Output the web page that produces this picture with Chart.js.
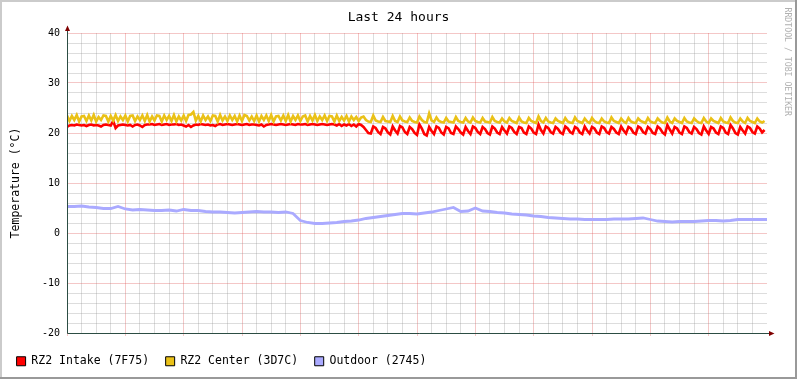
<!DOCTYPE html>
<html><head><meta charset="utf-8">
<script src="https://cdn.jsdelivr.net/npm/chart.js@4.4.1/dist/chart.umd.min.js"></script>
<style>html,body{margin:0;padding:0;background:#fff;}#wrap{width:797px;height:379px;}</style>
</head><body><div id="wrap"><canvas id="c" width="797" height="379"></canvas></div>
<script>
const chartTitle = 'Last 24 hours';
const yAxisTitle = 'Temperature (°C)';
const watermark = 'RRDTOOL / TOBI OETIKER';
const seriesNames = ['RZ2 Intake (7F75)', 'RZ2 Center (3D7C)', 'Outdoor (2745)'];
const xTickLabels = ['Fri 00:00', 'Fri 06:00', 'Fri 12:00', 'Fri 18:00'];
const yTickValues = [-20, -10, 0, 10, 20, 30, 40];
const sampleMinutes = 5;    // step of intake / center samples
const outdoorMinutes = 15;  // step of outdoor samples

const intake = [
21.2,21.5,21.6,21.5,21.7,21.6,21.5,21.6,21.4,21.6,
21.7,21.5,21.6,21.5,21.3,21.6,21.7,21.6,21.5,22.4,
21.0,21.5,21.6,21.7,21.6,21.5,21.6,21.3,21.6,21.7,
21.5,21.2,21.6,21.7,21.7,21.8,21.6,21.7,21.8,21.6,
21.7,21.8,21.6,21.7,21.7,21.8,21.6,21.7,21.5,21.3,
21.6,21.2,21.5,21.7,21.6,21.8,21.7,21.6,21.7,21.5,
21.6,21.4,21.7,21.8,21.6,21.7,21.8,21.7,21.6,21.7,
21.8,21.7,21.6,21.7,21.8,21.6,21.7,21.7,21.6,21.5,
21.7,21.3,21.6,21.7,21.8,21.7,21.6,21.7,21.8,21.7,
21.6,21.7,21.8,21.7,21.6,21.8,21.7,21.7,21.8,21.6,
21.7,21.8,21.7,21.6,21.7,21.8,21.7,21.6,21.7,21.8,
21.7,21.5,21.8,21.4,21.7,21.5,21.8,21.4,21.7,21.3,
21.8,21.6,
21.2,20.6,20.0,19.9, 21.3,21.0,20.2,19.8, 21.2,20.9,20.1,19.7, 21.3,20.5,19.9,
21.4,21.1,20.2,19.8, 21.2,20.8,20.0,19.6, 21.7,20.9,19.8,19.5, 21.2,20.4,19.8,
21.3,21.0,20.1,19.7, 21.2,20.9,20.0,19.8, 21.3,20.8,20.1,19.7, 21.2,20.4,19.8,
21.3,21.0,20.2,19.8, 21.2,20.8,20.0,19.7, 21.3,20.9,20.1,19.8, 21.2,20.5,19.9,
21.3,21.0,20.2,19.8, 21.2,21.0,20.1,19.8, 21.3,20.9,20.1,19.8, 21.7,20.6,19.9,
21.3,21.0,20.2,19.9, 21.2,20.8,20.1,19.8, 21.3,20.9,20.2,19.9, 21.2,20.9,20.1,19.8,
21.3,20.5,19.9, 21.2,20.9,20.1,19.8, 21.3,21.0,20.2,19.9, 21.2,20.8,20.1,19.8,
21.3,20.5,19.9, 21.2,20.9,20.1,19.8, 21.3,21.0,20.2,19.9, 21.2,20.8,20.0,19.8,
21.3,20.9,20.1,19.7, 21.6,20.7,19.9, 21.2,20.9,20.1,19.8, 21.3,21.0,20.2,19.9,
21.2,20.8,20.0,19.7, 21.3,20.5,19.8, 21.2,20.9,20.1,19.8, 21.3,21.0,20.1,19.8,
21.6,20.9,20.0,19.7, 21.2,20.5,19.9, 21.3,21.0,20.2,19.9, 21.3,20.9,20.1,20.6
];

const center = [
23.5,22.4,23.4,22.6,23.6,22.3,23.3,23.4,22.4,23.5,
22.5,23.6,22.3,23.2,22.6,23.5,23.4,22.3,23.4,22.5,
23.6,22.4,23.3,22.6,23.5,22.3,23.4,23.5,22.4,23.3,
22.6,23.5,22.4,23.6,22.3,23.3,22.5,23.5,23.4,22.3,
23.5,22.6,23.4,22.4,23.6,22.3,23.3,22.5,23.5,22.4,
23.6,23.7,24.2,22.5,23.4,22.3,23.5,22.6,23.3,22.4,
23.5,23.4,22.3,23.6,22.5,23.3,22.4,23.5,22.6,23.4,
22.3,23.5,22.4,23.6,23.4,22.5,23.3,22.4,23.5,22.3,
23.4,22.6,23.5,22.4,23.6,22.3,23.3,23.4,22.5,23.5,
22.4,23.6,22.3,23.4,22.6,23.5,22.4,23.3,23.5,22.3,
23.4,22.5,23.6,22.4,23.3,22.6,23.5,22.4,23.4,23.3,
22.3,23.5,22.4,23.2,22.5,23.4,22.3,23.3,22.6,23.2,
22.4,23.1,
23.3,22.6,22.3,22.2, 23.5,22.5,22.3,22.2, 23.2,22.4,22.3,22.2, 23.4,22.4,22.2,
23.3,22.5,22.3,22.2, 23.1,22.4,22.2,22.1, 23.3,22.6,22.2,22.1, 23.9,22.5,22.2,
23.1,22.4,22.2,22.1, 23.0,22.3,22.2,22.1, 23.2,22.4,22.2,22.1, 23.0,22.3,22.1,
23.1,22.4,22.2,22.1, 23.0,22.3,22.2,22.1, 23.2,22.4,22.2,22.1, 22.9,22.3,22.1,
23.0,22.4,22.2,22.0, 23.1,22.3,22.1,22.0, 23.0,22.4,22.2,22.0, 23.3,22.4,22.1,
23.0,22.3,22.1,22.0, 22.9,22.4,22.2,22.0, 23.0,22.3,22.1,22.0, 23.1,22.4,22.2,22.0,
22.9,22.3,22.0, 23.0,22.4,22.1,22.0, 22.9,22.3,22.1,22.0, 23.1,22.4,22.2,22.0,
22.9,22.3,22.0, 23.0,22.3,22.1,22.0, 22.9,22.4,22.2,22.0, 23.0,22.3,22.1,22.0,
22.9,22.4,22.1,22.0, 23.1,22.3,22.0, 22.9,22.4,22.2,22.0, 23.0,22.3,22.1,22.0,
22.9,22.4,22.1,22.0, 23.0,22.3,22.0, 22.9,22.4,22.2,22.0, 23.0,22.3,22.1,22.0,
23.1,22.4,22.1,22.0, 22.9,22.3,22.0, 23.0,22.4,22.2,22.0, 22.9,22.3,22.1,22.4
];

const outdoor = [
5.3,5.3,5.4,5.2,5.1,4.9,4.9,5.3,4.8,4.6,
4.7,4.6,4.5,4.5,4.6,4.4,4.7,4.5,4.5,4.3,
4.2,4.2,4.1,4.0,4.1,4.2,4.3,4.2,4.2,4.1,
4.2,3.9,2.5,2.1,1.9,1.9,2.0,2.1,2.3,2.4,
2.6,2.9,3.1,3.3,3.5,3.7,3.9,3.9,3.8,4.0,
4.2,4.5,4.8,5.1,4.3,4.4,5.0,4.4,4.3,4.1,
4.0,3.8,3.7,3.6,3.4,3.3,3.1,3.0,2.9,2.8,
2.8,2.7,2.7,2.7,2.7,2.8,2.8,2.8,2.9,3.0,
2.7,2.4,2.3,2.2,2.3,2.3,2.3,2.4,2.5,2.5,
2.4,2.5,2.7,2.7,2.7,2.7,2.7
];

const FONT = "'DejaVu Sans Mono', monospace";
const COLORS = ['#ff0000', '#eac117', '#aaaaff'];
const MAJOR_GRID = 'rgba(222,81,81,0.32)';
const MINOR_GRID = 'rgba(143,143,143,0.30)';
const toPts = (arr, step) => arr.map((v, i) => ({x: i * step, y: v}));

const framePlugin = {
  id: 'frame',
  beforeDraw(chart) {
    const c = chart.ctx, W = chart.width, H = chart.height;
    c.save();
    c.fillStyle = '#ffffff';
    c.fillRect(0, 0, W, H);
    c.fillStyle = '#cbcbcb';
    c.fillRect(0, 0, W, 2);
    c.fillRect(0, 0, 2, H);
    c.fillStyle = '#999999';
    c.fillRect(0, H - 2, W, 2);
    c.fillRect(W - 2, 0, 2, H);
    c.restore();
  },
  afterDatasetsDraw(chart) {
    const a = chart.chartArea, c = chart.ctx;
    const x0 = Math.round(a.left) + 0.5, y0 = Math.round(a.bottom) + 0.5;
    c.save();
    c.strokeStyle = '#2c4d43';
    c.lineWidth = 1;
    c.beginPath();
    c.moveTo(x0, y0); c.lineTo(x0, a.top - 4);
    c.moveTo(x0, y0); c.lineTo(a.right + 4, y0);
    c.stroke();
    c.fillStyle = '#7f0000';
    c.beginPath();
    c.moveTo(x0 - 2.5, a.top - 2); c.lineTo(x0 + 2.5, a.top - 2); c.lineTo(x0, a.top - 7.5); c.closePath();
    c.fill();
    c.beginPath();
    c.moveTo(a.right + 2, y0 - 2.5); c.lineTo(a.right + 2, y0 + 2.5); c.lineTo(a.right + 7.5, y0); c.closePath();
    c.fill();
    c.restore();
  },
  afterDraw(chart) {
    const c = chart.ctx;
    c.save();
    c.translate(786.7, 7.5);
    c.rotate(Math.PI / 2);
    c.font = '8.2px ' + FONT;
    c.fillStyle = '#b0b0b0';
    c.textAlign = 'left';
    c.textBaseline = 'middle';
    c.fillText(watermark, 0, 0);
    c.restore();
  }
};

new Chart(document.getElementById('c'), {
  type: 'line',
  data: {
    datasets: [
      {label: seriesNames[0], data: toPts(intake, sampleMinutes), borderColor: COLORS[0], backgroundColor: COLORS[0], borderWidth: 2.6, order: 3},
      {label: seriesNames[1], data: toPts(center, sampleMinutes), borderColor: COLORS[1], backgroundColor: COLORS[1], borderWidth: 2.6, order: 2},
      {label: seriesNames[2], data: toPts(outdoor, outdoorMinutes), borderColor: COLORS[2], backgroundColor: COLORS[2], borderWidth: 2.8, order: 1}
    ]
  },
  options: {
    responsive: false,
    animation: false,
    devicePixelRatio: 1,
    elements: {line: {tension: 0, fill: false, borderJoinStyle: 'miter'}, point: {radius: 0}},
    layout: {padding: {left: 0, right: 0, top: 0, bottom: 2}},
    plugins: {
      title: {display: true, text: chartTitle, color: '#000', font: {family: FONT, size: 13, weight: 'normal'}, padding: {top: 9.7, bottom: 7.7}},
      legend: {
        position: 'bottom', align: 'start', maxHeight: 60,
        labels: {
          boxWidth: 9, boxHeight: 9, padding: 16.6, color: '#000',
          font: {family: FONT, size: 11.5},
          sort: (a, b) => a.datasetIndex - b.datasetIndex,
          generateLabels: (chart) => Chart.defaults.plugins.legend.labels.generateLabels(chart).map(l => Object.assign(l, {
            fillStyle: COLORS[l.datasetIndex], strokeStyle: '#000', lineWidth: 1
          }))
        }
      },
      tooltip: {enabled: false}
    },
    scales: {
      x: {
        type: 'linear', min: 0, max: 1440,
        afterFit: (s) => { s.height = 5.9; },
        border: {display: false},
        grid: {
          lineWidth: 1, tickLength: 3,
          color: (c) => c.tick.value >= 1440 ? 'rgba(0,0,0,0)' : (c.tick.value % 120 === 0 ? MAJOR_GRID : MINOR_GRID),
          tickColor: (c) => (c.tick.value % 120 === 0 && c.tick.value < 1440) ? MAJOR_GRID : 'rgba(0,0,0,0)'
        },
        ticks: {
          stepSize: 30, autoSkip: false, maxRotation: 0, minRotation: 0, padding: 3,
          color: '#000', font: {family: FONT, size: 10},
          callback: (v) => (v % 360 === 0 && v < 1440) ? xTickLabels[v / 360] : ''
        }
      },
      y: {
        type: 'linear', position: 'left', min: -20, max: 40,
        afterFit: (s) => { s.width = 67; },
        border: {display: false},
        grid: {
          lineWidth: 1, drawTicks: false,
          color: (c) => c.tick.value % 10 === 0 ? MAJOR_GRID : MINOR_GRID
        },
        ticks: {
          stepSize: 2, autoSkip: false, padding: 7,
          color: '#000', font: {family: FONT, size: 10},
          callback: (v) => yTickValues.includes(v) ? String(v) : ''
        },
        title: {display: true, text: yAxisTitle, color: '#000', font: {family: FONT, size: 11.5}, padding: {top: 9.1, bottom: 0}}
      },
      yr: {
        type: 'linear', position: 'right', display: true,
        afterFit: (s) => { s.width = 30; },
        grid: {display: false, drawTicks: false},
        border: {display: false},
        ticks: {display: false}
      }
    }
  },
  plugins: [framePlugin]
});
</script>
</body></html>
